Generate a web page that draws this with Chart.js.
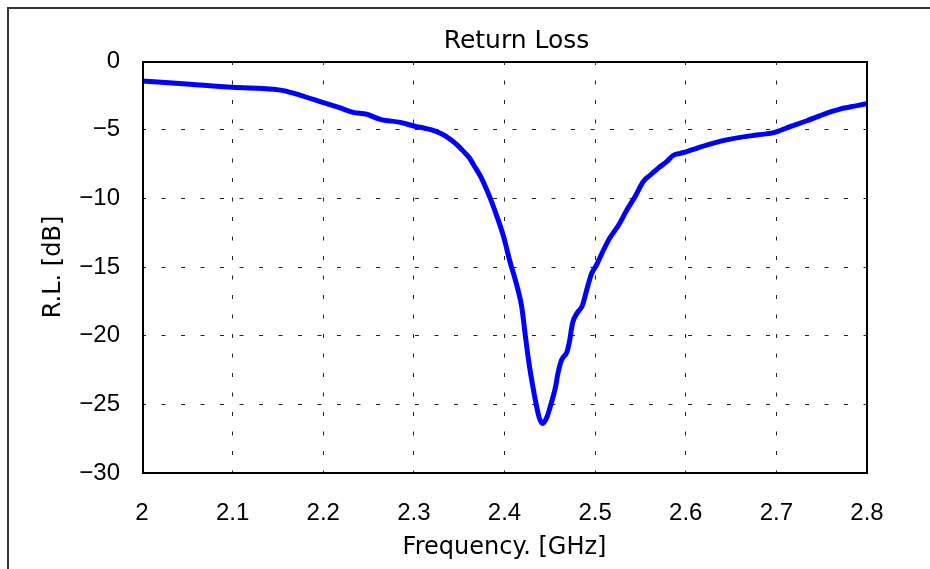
<!DOCTYPE html>
<html><head><meta charset="utf-8">
<script src="https://cdn.jsdelivr.net/npm/chart.js@4.4.1/dist/chart.umd.min.js"></script>
<style>html,body{margin:0;padding:0;background:#fff;}#wrap{width:930px;height:569px;position:relative;}</style>
</head><body><div id="wrap"><canvas id="c" width="930" height="569"></canvas></div>
<script>
const chartTitle = 'Return Loss';
const xAxisTitle = 'Frequency. [GHz]';
const yAxisTitle = 'R.L. [dB]';
const frequencyGHz = [2.000, 2.053, 2.100, 2.145, 2.156, 2.174, 2.200, 2.218, 2.233, 2.248, 2.263, 2.285, 2.301, 2.312, 2.322, 2.332, 2.340, 2.348, 2.355, 2.362, 2.366, 2.374, 2.384, 2.391, 2.399, 2.406, 2.413, 2.419, 2.423, 2.427, 2.431, 2.435, 2.438, 2.442, 2.447, 2.451, 2.456, 2.459, 2.463, 2.469, 2.472, 2.475, 2.480, 2.486, 2.491, 2.496, 2.502, 2.509, 2.516, 2.526, 2.535, 2.544, 2.553, 2.561, 2.570, 2.579, 2.586, 2.594, 2.601, 2.612, 2.623, 2.641, 2.660, 2.678, 2.697, 2.715, 2.733, 2.752, 2.770, 2.789, 2.800];
const returnLossDb = [-1.45, -1.70, -1.92, -2.06, -2.16, -2.48, -3.03, -3.40, -3.74, -3.88, -4.25, -4.47, -4.75, -4.90, -5.07, -5.35, -5.70, -6.12, -6.60, -7.12, -7.57, -8.45, -9.95, -11.2, -12.79, -14.6, -16.2, -17.9, -20.0, -22.0, -23.6, -25.0, -25.9, -26.4, -25.90, -25.05, -23.83, -22.74, -21.77, -21.17, -20.32, -19.10, -18.37, -17.8, -16.6, -15.5, -14.8, -13.8, -12.91, -11.94, -10.85, -9.88, -8.79, -8.30, -7.78, -7.33, -6.88, -6.72, -6.60, -6.36, -6.12, -5.80, -5.56, -5.39, -5.22, -4.78, -4.37, -3.88, -3.50, -3.25, -3.10];
const xTickValues = [2, 2.1, 2.2, 2.3, 2.4, 2.5, 2.6, 2.7, 2.8];
const xTickLabels = ['2', '2.1', '2.2', '2.3', '2.4', '2.5', '2.6', '2.7', '2.8'];
const yTickValues = [0, -5, -10, -15, -20, -25, -30];
const yTickLabels = ['0', '\u22125', '\u221210', '\u221215', '\u221220', '\u221225', '\u221230'];

const tickFont = {family: 'Liberation Sans', size: 24};
const titleFont = {family: 'DejaVu Sans', size: 24};
const gridOpts = {color: '#222', lineWidth: 1, drawTicks: false};

const framePlugin = {
  id: 'frame',
  beforeDraw(chart) {
    const ctx = chart.ctx;
    ctx.save();
    ctx.fillStyle = '#fff';
    ctx.fillRect(0, 0, chart.width, chart.height);
    ctx.strokeStyle = '#333';
    ctx.lineWidth = 2;
    ctx.strokeRect(8, 8, 1200, 1200);
    ctx.restore();
  },
  afterDraw(chart) {
    const ctx = chart.ctx;
    const a = chart.chartArea;
    ctx.save();
    ctx.strokeStyle = '#000';
    ctx.lineWidth = 2;
    ctx.strokeRect(a.left + 1, a.top + 1, a.right - a.left - 1, a.bottom - a.top - 1);
    ctx.fillStyle = '#000';
    ctx.font = '25px "DejaVu Sans"';
    ctx.textAlign = 'center';
    ctx.textBaseline = 'alphabetic';
    ctx.fillText(chartTitle, (a.left + a.right) / 2 + 12, 48);
    ctx.restore();
  }
};

new Chart(document.getElementById('c'), {
  type: 'line',
  data: {
    datasets: [{
      label: chartTitle,
      data: frequencyGHz.map((f, i) => ({x: f, y: returnLossDb[i]})),
      borderColor: '#0000ff',
      backgroundColor: '#0000ff',
      borderWidth: 5,
      pointRadius: 0,
      cubicInterpolationMode: 'monotone',
      borderJoinStyle: 'round',
      borderCapStyle: 'round',
      fill: false
    }]
  },
  options: {
    responsive: false,
    animation: false,
    devicePixelRatio: 1,
    layout: {padding: {top: 61, right: 63, left: 0, bottom: 0}},
    plugins: {legend: {display: false}, tooltip: {enabled: false}, title: {display: false}},
    scales: {
      x: {
        type: 'linear', min: 2, max: 2.8,
        afterBuildTicks: (s) => { s.ticks = xTickValues.map(v => ({value: v})); },
        afterFit: (s) => { s.height = 96; },
        grid: Object.assign({}, gridOpts),
        border: {display: false, dash: [4, 15.5]},
        ticks: {font: tickFont, color: '#000', padding: 26, maxRotation: 0, autoSkip: false,
          callback: (v, i) => xTickLabels[i]},
        title: {display: true, text: xAxisTitle, font: titleFont, color: '#000', padding: {top: 0, bottom: 7}}
      },
      y: {
        type: 'linear', min: -30, max: 0,
        afterBuildTicks: (s) => { s.ticks = yTickValues.map(v => ({value: v})); },
        afterFit: (s) => { s.width = 142; },
        grid: Object.assign({}, gridOpts),
        border: {display: false, dash: [4, 15.5]},
        ticks: {font: tickFont, color: '#000', padding: 22, autoSkip: false,
          callback: (v, i) => yTickLabels[i]},
        title: {display: true, text: yAxisTitle, font: titleFont, color: '#000', padding: {top: 39, bottom: 0}}
      }
    }
  },
  plugins: [framePlugin]
});
</script>
</body></html>
